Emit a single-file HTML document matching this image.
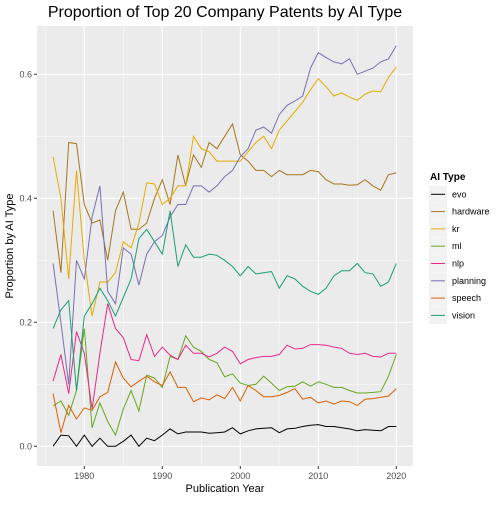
<!DOCTYPE html>
<html><head><meta charset="utf-8"><style>
body{margin:0;background:#fff;font-family:"Liberation Sans",sans-serif;}
</style></head><body>
<svg id="chart" width="500" height="500" xmlns="http://www.w3.org/2000/svg" font-family="Liberation Sans, sans-serif">
<text x="225" y="17" font-size="16" text-anchor="middle" fill="#000">Proportion of Top 20 Company Patents by AI Type</text>
<rect x="37" y="26" width="376" height="440" fill="#ebebeb"/>
<g id="grid"></g>
<g id="series"></g>
<g id="axes"></g>
<text x="225" y="492" font-size="11" text-anchor="middle">Publication Year</text>
<text transform="translate(13,246) rotate(-90)" font-size="11" text-anchor="middle">Proportion by AI Type</text>
<g id="legend"></g>
</svg>
<script>
const years=[];for(let y=1976;y<=2020;y++)years.push(y);
const seriesNames=["evo","hardware","kr","ml","nlp","planning","speech","vision"];
const seriesColors=["#000000","#A6761D","#E6AB02","#66A61E","#E7298A","#7570B3","#D95F02","#1B9E77"];
const evo=[0,.018,.017,0,.018,0,.013,0,0,.008,.018,0,.013,.009,.018,.028,.02,.023,.023,.023,.021,.022,.023,.03,.02,.025,.028,.029,.03,.022,.028,.029,.032,.034,.035,.032,.032,.03,.028,.025,.027,.026,.025,.032,.032];
const hardware=[.38,.28,.49,.488,.39,.36,.365,.30,.38,.41,.35,.35,.36,.40,.43,.39,.47,.42,.47,.45,.49,.48,.50,.52,.47,.46,.445,.445,.435,.445,.438,.438,.438,.445,.443,.43,.423,.423,.421,.422,.43,.42,.413,.438,.441];
const kr=[.467,.40,.27,.445,.30,.21,.265,.265,.28,.33,.32,.36,.425,.423,.39,.40,.42,.42,.50,.48,.475,.46,.46,.46,.46,.475,.49,.50,.48,.51,.525,.54,.555,.575,.593,.58,.565,.57,.563,.558,.568,.573,.572,.595,.612];
const ml=[.065,.073,.05,.09,.19,.03,.07,.04,.018,.06,.09,.057,.115,.11,.095,.145,.14,.178,.16,.153,.14,.135,.112,.117,.102,.098,.1,.113,.102,.09,.096,.097,.104,.097,.104,.1,.095,.095,.09,.086,.086,.087,.088,.113,.148];
const nlp=[.105,.148,.085,.185,.15,.06,.15,.23,.19,.175,.14,.138,.18,.145,.16,.147,.14,.163,.15,.15,.144,.15,.16,.153,.133,.14,.143,.145,.145,.148,.163,.157,.158,.164,.164,.163,.16,.158,.15,.148,.15,.145,.144,.15,.15];
const planning=[.295,.2,.10,.30,.27,.37,.42,.25,.23,.32,.31,.26,.31,.33,.34,.37,.39,.39,.42,.42,.41,.42,.435,.445,.467,.48,.51,.515,.505,.535,.55,.557,.565,.61,.635,.627,.62,.617,.625,.60,.605,.61,.62,.625,.646];
const speech=[.085,.022,.066,.044,.062,.058,.08,.087,.136,.11,.096,.105,.113,.104,.098,.12,.095,.095,.072,.078,.075,.083,.077,.095,.073,.098,.09,.08,.08,.082,.087,.093,.076,.079,.07,.073,.068,.073,.072,.066,.076,.077,.079,.081,.093];
const vision=[.19,.22,.235,.09,.21,.23,.255,.235,.21,.24,.27,.335,.35,.33,.31,.38,.29,.325,.305,.305,.31,.308,.30,.29,.275,.29,.278,.28,.282,.255,.275,.27,.258,.25,.245,.255,.275,.283,.283,.295,.28,.278,.258,.265,.295];
const xTicks=[1980,1990,2000,2010,2020];
const yTicks=[0,0.2,0.4,0.6];
const yTickLabels=["0.0","0.2","0.4","0.6"];
const allSeries=[evo,hardware,kr,ml,nlp,planning,speech,vision];

const NS="http://www.w3.org/2000/svg";
function X(yr){return 84.3+(yr-1980)*7.8;}
function Y(v){return 446.3-v*620;}
function mk(tag,attrs,parent){const e=document.createElementNS(NS,tag);for(const k in attrs)e.setAttribute(k,attrs[k]);parent.appendChild(e);return e;}
const grid=document.getElementById('grid'),axes=document.getElementById('axes'),ser=document.getElementById('series'),leg=document.getElementById('legend');
for(let i=0;i<xTicks.length;i++){
  const m=xTicks[i]+5;if(X(m)<413){const l=mk('line',{x1:X(m),x2:X(m),y1:26,y2:466,stroke:'#fff','stroke-width':0.5},grid);}
  const m0=xTicks[i]-5;if(i===0){const l=mk('line',{x1:X(m0),x2:X(m0),y1:26,y2:466,stroke:'#fff','stroke-width':0.5},grid);}
  const g=mk('line',{x1:X(xTicks[i]),x2:X(xTicks[i]),y1:26,y2:466,stroke:'#fff','stroke-width':1.1},grid);
  
  
  mk('line',{x1:X(xTicks[i]),x2:X(xTicks[i]),y1:466,y2:469,stroke:'#333'},axes);
  const t=mk('text',{x:X(xTicks[i]),y:479,'font-size':9,'text-anchor':'middle',fill:'#4d4d4d'},axes);
  t.textContent=xTicks[i];
  
  
}
for(let i=0;i<yTicks.length;i++){
  const mv=yTicks[i]+0.1;if(Y(mv)>26){const l=mk('line',{x1:37,x2:413,y1:Y(mv),y2:Y(mv),stroke:'#fff','stroke-width':0.5},grid);}
  const g=mk('line',{x1:37,x2:413,y1:Y(yTicks[i]),y2:Y(yTicks[i]),stroke:'#fff','stroke-width':1.1},grid);
  
  
  mk('line',{x1:34,x2:37,y1:Y(yTicks[i]),y2:Y(yTicks[i]),stroke:'#333'},axes);
  const t=mk('text',{x:32,y:Y(yTicks[i])+3,'font-size':9,'text-anchor':'end',fill:'#4d4d4d'},axes);
  t.textContent=yTickLabels[i];
  
  
}
for(let s=0;s<allSeries.length;s++){
  const pts=allSeries[s].map((v,i)=>X(years[i]).toFixed(1)+','+Y(v).toFixed(1)).join(' ');
  const p=mk('polyline',{points:pts,fill:'none',stroke:seriesColors[s],'stroke-width':1},ser);
  
  
}
const lt=mk('text',{x:430,y:180,'font-size':10,'font-weight':'bold'},leg);
lt.textContent='AI Type';


for(let s=0;s<seriesNames.length;s++){
  const y=194.3+s*17.3;
  const g=mk('g',{},leg);
  
  
  mk('rect',{x:429,y:y-8.5,width:18,height:17,fill:'#f2f2f2'},g);
  mk('line',{x1:431,x2:445,y1:y,y2:y,stroke:seriesColors[s],'stroke-width':1},g);
  const t=mk('text',{x:452,y:y+3,'font-size':9,fill:'#000'},g);
  t.textContent=seriesNames[s];
}
</script>
</body></html>
